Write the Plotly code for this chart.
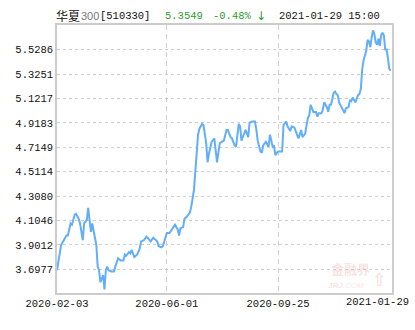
import plotly.graph_objects as go

# trading-day index (0 = 2020-02-03, 246 = 2021-01-29) and net value
day_idx = [0, 2, 3, 5, 7, 8, 10, 11, 13, 14, 16, 17, 19, 20, 22, 23, 24, 25, 26, 27,
           29, 30, 31, 32, 34, 35, 36, 37, 38, 40, 42, 43, 45, 47, 49, 50, 51, 53, 54, 55,
           56, 57, 59, 61, 62, 64, 66, 69, 71, 74, 75, 77, 78, 80, 81, 83, 85, 87, 89, 90,
           91, 93, 94, 96, 98, 99, 101, 102, 103, 104, 105, 107, 108, 109, 110, 111, 112, 114, 116, 118,
           120, 123, 125, 126, 128, 129, 131, 132, 134, 135, 136, 138, 139, 141, 142, 144, 146, 147, 148, 150,
           151, 152, 154, 156, 157, 159, 160, 161, 163, 166, 167, 169, 170, 172, 173, 175, 177, 178, 179, 180,
           181, 183, 184, 185, 186, 187, 188, 189, 191, 192, 193, 195, 196, 197, 199, 200, 201, 202, 204, 205,
           206, 207, 208, 210, 211, 212, 213, 215, 216, 217, 218, 220, 221, 222, 223, 224, 225, 226, 228, 229,
           230, 231, 232, 233, 234, 235, 236, 237, 238, 239, 240, 241, 242, 243, 244, 245, 246]
nav = [3.69, 3.84, 3.90, 3.94, 3.98, 3.98, 4.08, 4.07, 4.15, 4.16, 4.12, 4.08, 3.94, 4.08, 4.11, 4.21, 4.11, 4.01, 4.08, 4.01,
       3.90, 3.72, 3.69, 3.59, 3.65, 3.53, 3.69, 3.72, 3.69, 3.68, 3.68, 3.72, 3.79, 3.77, 3.77, 3.82, 3.81, 3.84, 3.83, 3.86,
       3.83, 3.80, 3.82, 3.87, 3.93, 3.94, 3.97, 3.93, 3.96, 3.93, 3.89, 3.88, 3.89, 3.96, 4.00, 4.00, 4.03, 4.07, 4.03, 3.98,
       4.04, 4.05, 4.12, 4.14, 4.17, 4.22, 4.36, 4.52, 4.72, 4.82, 4.87, 4.91, 4.90, 4.84, 4.75, 4.59, 4.66, 4.76, 4.79, 4.59,
       4.75, 4.77, 4.86, 4.86, 4.80, 4.79, 4.73, 4.72, 4.91, 4.89, 4.77, 4.83, 4.86, 4.80, 4.92, 4.93, 4.93, 4.86, 4.77, 4.68,
       4.67, 4.73, 4.76, 4.72, 4.82, 4.72, 4.73, 4.65, 4.68, 4.68, 4.90, 4.93, 4.89, 4.85, 4.89, 4.88, 4.81, 4.79, 4.82, 4.86,
       4.80, 4.83, 4.90, 4.96, 4.98, 5.07, 5.04, 5.01, 5.01, 4.97, 5.00, 5.00, 5.03, 5.09, 5.05, 5.01, 5.07, 5.07, 5.17, 5.18,
       5.16, 5.15, 5.09, 5.04, 5.03, 5.00, 5.04, 5.05, 5.11, 5.10, 5.13, 5.09, 5.12, 5.15, 5.16, 5.20, 5.36, 5.44, 5.52, 5.61,
       5.60, 5.55, 5.63, 5.69, 5.66, 5.59, 5.57, 5.62, 5.56, 5.65, 5.67, 5.65, 5.53, 5.53, 5.46, 5.37, 5.3549]

y_ticks = [3.6977, 3.9012, 4.1046, 4.3080, 4.5114, 4.7149, 4.9183, 5.1217, 5.3251, 5.5286]
x_tick_idx = [0, 81, 163, 246]
x_tick_labels = ["2020-02-03", "2020-06-01", "2020-09-25", "2021-01-29"]

fund_name = "华夏"
fund_num = "300"
fund_code = "[510330]"
last_price = "5.3549"
change_pct = "-0.48%"
change_arrow = "↓"
timestamp = "2021-01-29 15:00"

MONO = "Liberation Mono, DejaVu Sans Mono, monospace"
GREEN = "#2f9a2f"
W, H = 415, 330
L, R, T, B = 57, 23, 25, 37
PW = W - L - R
PH = H - T - B

def px(p):
    return (p - L) / PW

def py(p):
    return (H - B - p) / PH

fig = go.Figure()
fig.add_trace(go.Scatter(x=day_idx, y=nav, mode="lines",
                         line=dict(color="#62aefa", width=2), hoverinfo="skip"))

fig.update_layout(
    width=W, height=H, margin=dict(l=L, r=R, t=T, b=B),
    paper_bgcolor="white", plot_bgcolor="white", showlegend=False,
    font=dict(family=MONO, size=10.5, color="#111"),
    xaxis=dict(range=[0, 247], tickvals=x_tick_idx[:3], ticktext=x_tick_labels[:3],
               showgrid=True, gridcolor="#cfcfcf", griddash="5px,4px", gridwidth=1,
               showline=True, mirror=True, linecolor="#cccccc", linewidth=1.5,
               ticks="", zeroline=False, fixedrange=True),
    yaxis=dict(range=[3.50, 5.735], tickvals=y_ticks, ticktext=[f"{v:.4f}" for v in y_ticks],
               showgrid=True, gridcolor="#cfcfcf", griddash="3px,3px", gridwidth=1,
               showline=True, mirror=True, linecolor="#cccccc", linewidth=1.5,
               ticks="", zeroline=False, fixedrange=True),
)

# last x label shifted inside the canvas
fig.add_annotation(xref="paper", yref="paper", x=px(411), y=0, yshift=-9,
                   xanchor="right", yanchor="middle", showarrow=False,
                   text=x_tick_labels[3], font=dict(family=MONO, size=10.5, color="#111"))

ty = py(15.5)
fig.add_annotation(xref="paper", yref="paper", x=px(54), y=ty, xanchor="left", yanchor="middle",
                   showarrow=False, text=fund_name,
                   font=dict(family="Noto Sans CJK SC", size=12, color="#111"))
fig.add_annotation(xref="paper", yref="paper", x=px(79), y=ty, xanchor="left", yanchor="middle",
                   showarrow=False, text=fund_num,
                   font=dict(family="Liberation Sans Narrow, Liberation Sans", size=11, color="#777"))
fig.add_annotation(xref="paper", yref="paper", x=px(98), y=ty, xanchor="left", yanchor="middle",
                   showarrow=False, text=fund_code, font=dict(family=MONO, size=10.5, color="#111"))
fig.add_annotation(xref="paper", yref="paper", x=px(163), y=ty, xanchor="left", yanchor="middle",
                   showarrow=False, text=last_price, font=dict(family=MONO, size=10.5, color=GREEN))
fig.add_annotation(xref="paper", yref="paper", x=px(211), y=ty, xanchor="left", yanchor="middle",
                   showarrow=False, text=change_pct, font=dict(family=MONO, size=10.5, color=GREEN))
fig.add_annotation(xref="paper", yref="paper", x=px(254), y=ty, xanchor="left", yanchor="middle",
                   showarrow=False, text=change_arrow,
                   font=dict(family="DejaVu Sans", size=12, color=GREEN))
fig.add_annotation(xref="paper", yref="paper", x=px(277), y=ty, xanchor="left", yanchor="middle",
                   showarrow=False, text=timestamp, font=dict(family=MONO, size=10.5, color="#111"))

# watermark
WM = "rgba(228,140,140,0.25)"
fig.add_annotation(xref="paper", yref="paper", x=px(350), y=py(268),
                   xanchor="center", yanchor="middle", showarrow=False, text="<b>金融界</b>",
                   font=dict(family="Noto Sans CJK SC", size=13, color=WM))
fig.add_annotation(xref="paper", yref="paper", x=px(346), y=py(285),
                   xanchor="center", yanchor="middle", showarrow=False, text="<i><b>JRJ</b>.COM</i>",
                   font=dict(family="Liberation Sans", size=8, color=WM))
fig.add_annotation(xref="paper", yref="paper", x=px(379), y=py(279),
                   xanchor="center", yanchor="middle", showarrow=False, text="<b>⇧</b>",
                   font=dict(family="DejaVu Sans", size=18, color=WM))

fig.write_html("out.html")
